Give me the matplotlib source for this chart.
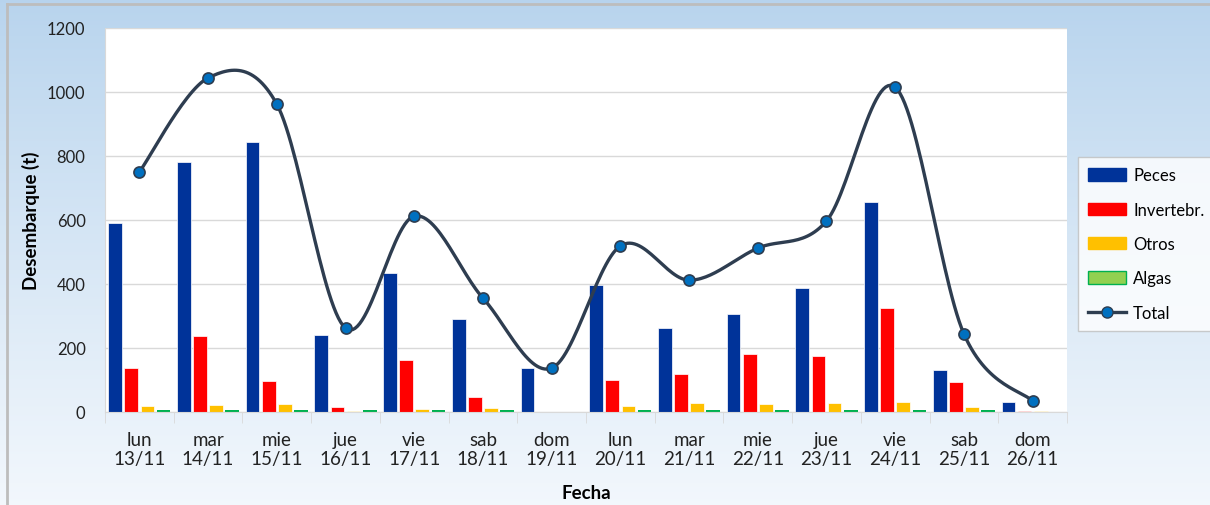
import numpy as np
import matplotlib.pyplot as plt
from matplotlib.patches import Patch
from matplotlib.lines import Line2D

# data
dias = ['lun\n13/11', 'mar\n14/11', 'mie\n15/11', 'jue\n16/11', 'vie\n17/11', 'sab\n18/11', 'dom\n19/11',
        'lun\n20/11', 'mar\n21/11', 'mie\n22/11', 'jue\n23/11', 'vie\n24/11', 'sab\n25/11', 'dom\n26/11']
peces = [590, 781, 844, 240, 434, 290, 137, 397, 262, 306, 387, 656, 131, 31]
invertebr = [137, 238, 97, 16, 162, 47, 0, 100, 119, 180, 174, 325, 94, 4]
otros = [18, 21, 24, 3, 9, 12, 0, 18, 28, 24, 28, 32, 15, 3]
algas = [6, 6, 6, 6, 6, 6, 0, 6, 6, 6, 6, 6, 6, 0]
total = [750, 1044, 962, 262, 612, 356, 137, 519, 412, 512, 597, 1015, 244, 34]

plt.rcParams['font.family'] = ['Lato', 'DejaVu Sans']


def catmull_rom(x, y, n=30):
    # smooth curve through the points, like Excel's smoothed line
    px = np.concatenate([[x[0]], x, [x[-1]]])
    py = np.concatenate([[y[0]], y, [y[-1]]])
    xs, ys = [], []
    t = np.linspace(0, 1, n)
    for i in range(1, len(px) - 2):
        for p, out in ((px, xs), (py, ys)):
            p0, p1, p2, p3 = p[i - 1], p[i], p[i + 1], p[i + 2]
            out.extend(0.5 * ((2 * p1) + (-p0 + p2) * t
                              + (2 * p0 - 5 * p1 + 4 * p2 - p3) * t ** 2
                              + (-p0 + 3 * p1 - 3 * p2 + p3) * t ** 3))
    return np.array(xs), np.array(ys)


fig = plt.figure(figsize=(12.1, 5.06), dpi=100)

# background gradient
bg = fig.add_axes([0, 0, 1, 1], zorder=-1)
grad = np.linspace(0, 1, 256).reshape(-1, 1)
top = np.array([0.72, 0.83, 0.93])
bot = np.array([0.95, 0.97, 0.99])
img = top + (bot - top) * grad[:, :, None] ** 0.9
bg.imshow(img, aspect='auto', extent=[0, 1, 0, 1])
bg.plot([0.006, 0.006], [0, 0.99], color='#bdbdbd', lw=2)
bg.plot([0.006, 1], [0.99, 0.99], color='#bdbdbd', lw=2)
bg.set_xlim(0, 1)
bg.set_ylim(0, 1)
bg.axis('off')

ax = fig.add_axes([0.0868, 0.1838, 0.795, 0.7589])
ax.set_facecolor('white')

x = np.arange(len(dias))
w = 0.2
step = 0.235
colores = ['#003399', '#ff0000', '#ffc000', '#00b050']
bordes = ['white', 'white', 'white', '#00b050']
anchos = [0.5, 0.5, 0.5, 0]
series = [peces, invertebr, otros, algas]
for k, (vals, c, e, lw) in enumerate(zip(series, colores, bordes, anchos)):
    ax.bar(x + (k - 1.5) * step, vals, width=w, color=c, zorder=2,
           edgecolor=e, linewidth=lw)

sx, sy = catmull_rom(x.astype(float), np.array(total, dtype=float))
ax.plot(sx, sy, color='#2e3d50', lw=2.4, zorder=3)
ax.plot(x, total, 'o', ms=8, mfc='#0070c0', mec='#2e3d50', mew=1.2, zorder=4)

ax.set_xlim(-0.5, len(dias) - 0.5)
ax.set_ylim(0, 1200)
ax.set_yticks(range(0, 1201, 200))
ax.yaxis.grid(True, color='#d9d9d9', lw=1)
ax.set_axisbelow(True)
ax.set_xticks(x)
ax.set_xticklabels(dias, fontsize=13.5, color='#222222', linespacing=1.1)
ax.set_xticks(np.arange(-0.5, len(dias), 1), minor=True)
ax.tick_params(axis='x', which='major', length=0, pad=14)
ax.tick_params(axis='x', which='minor', length=8, color='#d9d9d9', direction='out')
ax.tick_params(axis='y', length=0, pad=14, labelsize=12, labelcolor='#222222')
for s in ['top', 'right']:
    ax.spines[s].set_visible(False)
ax.spines['left'].set_color('#d9d9d9')
ax.spines['bottom'].set_color('#d9d9d9')

ax.set_ylabel('Desembarque (t)', fontsize=13.5, fontweight='bold', labelpad=5)
ax.set_xlabel('Fecha', fontsize=13.5, fontweight='bold', labelpad=12)

handles = [Patch(facecolor=c, edgecolor=e) for c, e in
           zip(colores[:3] + ['#92d050'], ['#003399', '#ff0000', '#ffc000', '#00b050'])]
handles.append(Line2D([], [], color='#2e3d50', lw=2.4, marker='o', ms=8,
                      mfc='#0070c0', mec='#2e3d50'))
leg = fig.legend(handles, ['Peces', 'Invertebr.', 'Otros', 'Algas', 'Total'],
                 loc='center left', bbox_to_anchor=(0.891, 0.516), frameon=True,
                 fancybox=False, fontsize=12, labelspacing=1.1,
                 handlelength=2.3, handleheight=0.75, handletextpad=0.4,
                 borderpad=0.6, borderaxespad=0)
leg.get_frame().set_edgecolor('#bfbfbf')
leg.get_frame().set_linewidth(1)

fig.savefig('out.png', dpi=100)
